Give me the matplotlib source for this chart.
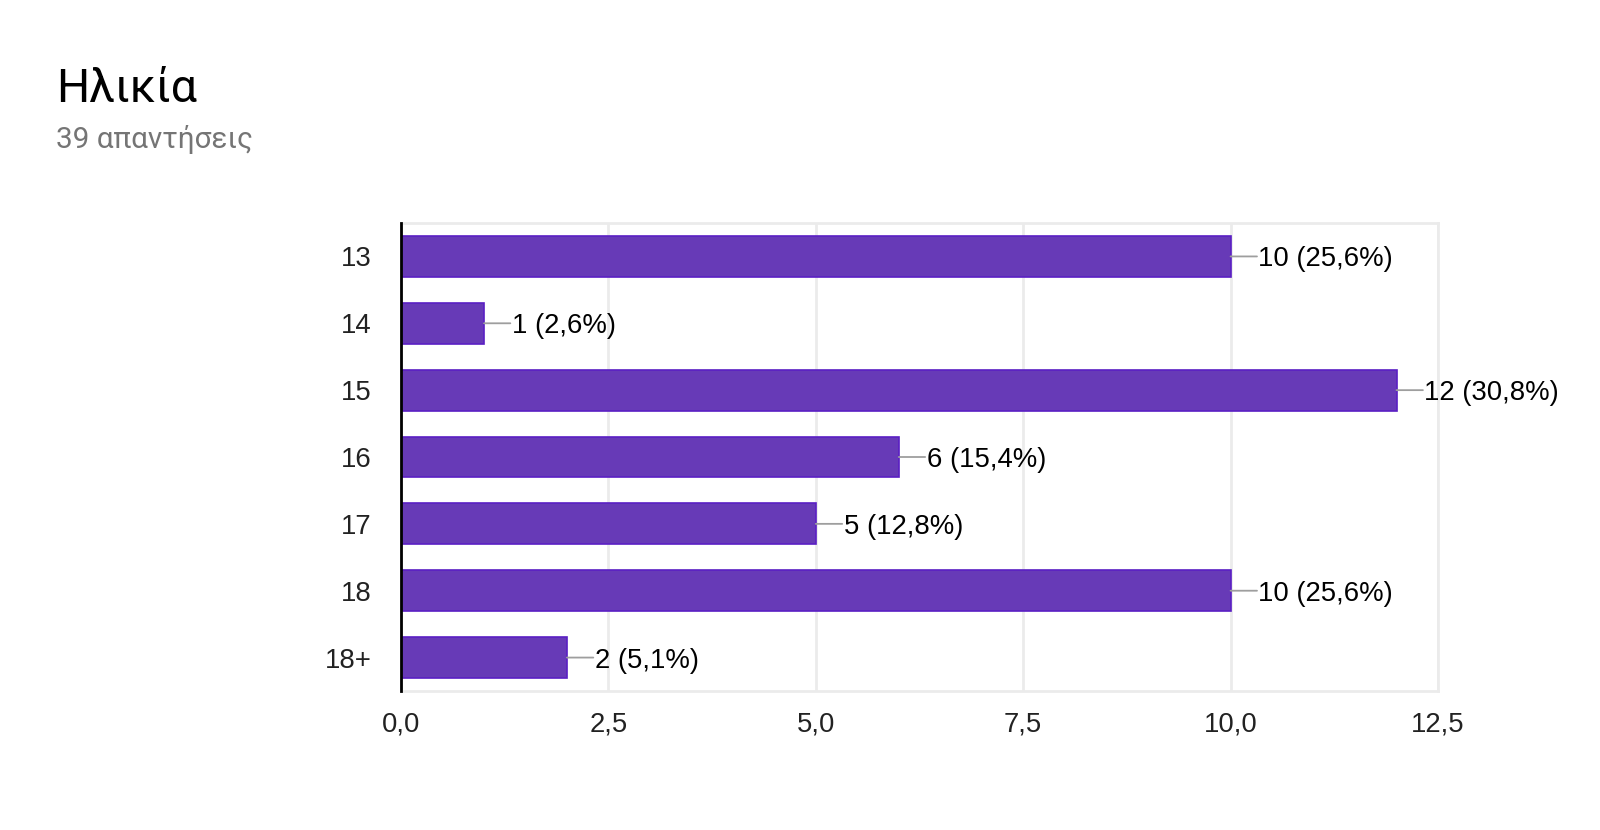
import matplotlib
matplotlib.use("Agg")
import matplotlib.pyplot as plt

categories = ["13", "14", "15", "16", "17", "18", "18+"]
counts = [10, 1, 12, 6, 5, 10, 2]
total = 39
xticks = [0, 2.5, 5.0, 7.5, 10.0, 12.5]
xtick_labels = ["0,0", "2,5", "5,0", "7,5", "10,0", "12,5"]
title = "Ηλικία"
subtitle = "39 απαντήσεις"

W, H = 1600, 830
fig = plt.figure(figsize=(W / 100, H / 100), dpi=100)
ax = fig.add_axes([401 / W, 1 - 691 / H, (1438 - 401) / W, (691 - 223) / H])

bar_color = "#673ab7"
edge_color = "#5a1fc4"
ypos = list(range(len(categories)))
ax.barh(ypos, counts, height=0.61, color=bar_color, edgecolor=edge_color,
        linewidth=1.2, zorder=3)

for y, c in zip(ypos, counts):
    pct = f"{c / total * 100:.1f}".replace(".", ",")
    ax.annotate("", xy=(c, y), xytext=(19, 0), textcoords="offset points",
                arrowprops=dict(arrowstyle="-", color="#9e9e9e", lw=1.3,
                                shrinkA=0, shrinkB=0), zorder=4)
    ax.annotate(f"{c} ({pct}%)", xy=(c, y), xytext=(20, 0),
                textcoords="offset points", va="center_baseline", ha="left",
                fontsize=19.8, family="Liberation Sans", color="#000000")

ax.set_xlim(0, 12.5)
ax.set_ylim(len(categories) - 0.5, -0.5)
ax.set_xticks(xticks)
ax.set_xticklabels(xtick_labels, fontsize=19.8, family="Liberation Sans", color="#222222")
ax.set_yticks(ypos)
ax.set_yticklabels(categories, fontsize=19.8, family="Liberation Sans", color="#222222")
ax.tick_params(axis="both", length=0)
ax.tick_params(axis="y", pad=21)
ax.tick_params(axis="x", pad=15)

ax.grid(axis="x", color="#ebebeb", linewidth=2, zorder=0)
ax.set_axisbelow(True)
for s in ["top", "right", "bottom"]:
    ax.spines[s].set_color("#ebebeb")
    ax.spines[s].set_linewidth(2)
ax.spines["left"].set_color("#000000")
ax.spines["left"].set_linewidth(2)
ax.spines["left"].set_zorder(5)

fig.text(56 / W, 1 - 102 / H, title, fontsize=33.5, family="Roboto",
         color="#000000", ha="left", va="baseline")
fig.text(56 / W, 1 - 148 / H, subtitle, fontsize=21.3, family="Roboto",
         color="#757575", ha="left", va="baseline")

fig.savefig("out.png", dpi=100, facecolor="white")
